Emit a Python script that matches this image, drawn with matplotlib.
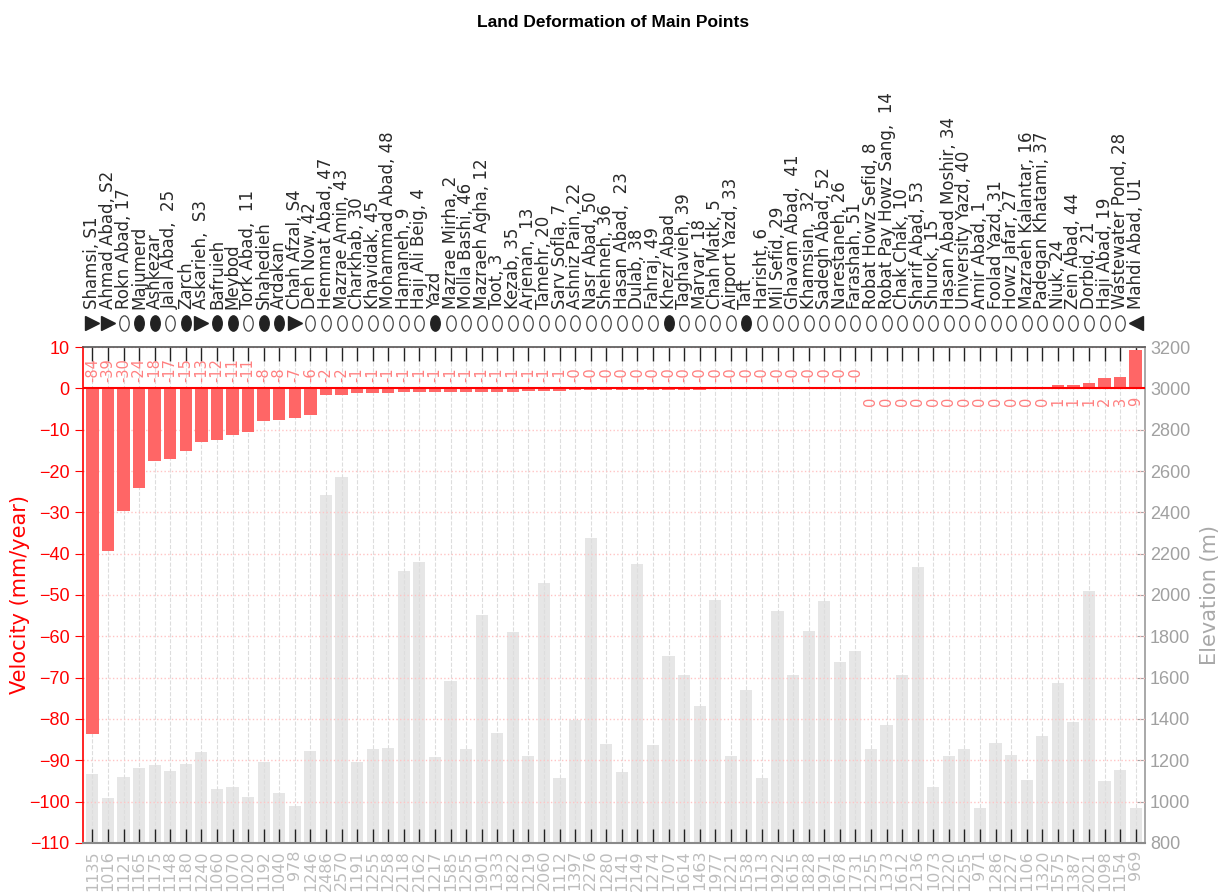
import matplotlib
matplotlib.use('Agg')
import matplotlib.pyplot as plt
from matplotlib.path import Path
from matplotlib.transforms import Affine2D
import numpy as np

plt.rcParams['font.family'] = ['Liberation Sans', 'DejaVu Sans']

# station names, in plotting order
names = ['Shamsi, S1', 'Ahmad Abad, S2', 'Rokn Abad, 17', 'Majumerd', 'Ashkezar',
         'Jalal Abad,  25', 'Zarch', 'Askarieh,  S3', 'Bafruieh', 'Meybod',
         'Tork Abad,  11', 'Shahedieh', 'Ardakan', 'Chah Afzal, S4', 'Deh Now, 42',
         'Hemmat Abad, 47', 'Mazrae Amin, 43', 'Charkhab, 30', 'Khavidak, 45',
         'Mohammad Abad, 48', 'Hamaneh, 9', 'Haji Ali Beig, 4', 'Yazd',
         'Mazrae Mirha, 2', 'Molla Bashi, 46', 'Mazraeh Agha, 12', 'Toot, 3',
         'Kezab, 35', 'Arjenan,  13', 'Tamehr, 20', 'Sarv Sofla, 7',
         'Ashniz Pain, 22', 'Nasr Abad, 50', 'Shehneh, 36', 'Hasan Abad,  23',
         'Dulab, 38', 'Fahraj, 49', 'Khezr Abad', 'Taghavieh, 39', 'Marvar, 18',
         'Chah Matk, 5', 'Airport Yazd, 33', 'Taft', 'Harisht, 6', 'Mil Sefid, 29',
         'Ghavam Abad,  41', 'Khamsian,  32', 'Sadegh Abad, 52', 'Narestaneh, 26',
         'Farashah, 51', 'Robat Howz Sefid, 8', 'Robat Pay Howz Sang,  14',
         'Chak Chak, 10', 'Sharif Abad, 53', 'Shurok, 15', 'Hasan Abad Moshir, 34',
         'University Yazd, 40', 'Amir Abad, 1', 'Foolad Yazd, 31', 'Howz Jafar, 27',
         'Mazraeh Kalantar, 16', 'Padegan Khatami, 37', 'Niuk, 24', 'Zein Abad, 44',
         'Dorbid, 21', 'Haji Abad, 19', 'Wastewater Pond, 28', 'Mahdi Abad, U1']

# S = station, C = city, P = point, U = U1
kinds = ['S', 'S', 'P', 'C', 'C', 'P', 'C', 'S', 'C', 'C', 'P', 'C', 'C', 'S',
         'P', 'P', 'P', 'P', 'P', 'P', 'P', 'P', 'C', 'P', 'P', 'P', 'P', 'P',
         'P', 'P', 'P', 'P', 'P', 'P', 'P', 'P', 'P', 'C', 'P', 'P', 'P', 'P',
         'C', 'P', 'P', 'P', 'P', 'P', 'P', 'P', 'P', 'P', 'P', 'P', 'P', 'P',
         'P', 'P', 'P', 'P', 'P', 'P', 'P', 'P', 'P', 'P', 'P', 'U']

# velocity (mm/year)
velocity = [-83.6, -39.4, -29.6, -24.1, -17.5, -17.2, -15.2, -12.9, -12.5, -11.3,
            -10.6, -7.9, -7.7, -7.1, -6.4, -1.7, -1.5,
            -1.2, -1.1, -1.1, -1.0, -1.0, -0.9, -0.9, -0.9, -0.8, -0.8, -0.8,
            -0.7, -0.7, -0.6,
            -0.48, -0.46, -0.44, -0.42, -0.40, -0.38, -0.35, -0.32, -0.30, -0.27,
            -0.24, -0.21, -0.18, -0.15, -0.12, -0.10, -0.08, -0.05, -0.03,
            0.02, 0.03, 0.05, 0.06, 0.08, 0.10, 0.15, 0.20, 0.25, 0.30, 0.35, 0.40,
            0.8, 0.9, 1.4, 2.4, 2.8, 9.2]

# elevation (m)
elevation = [1135, 1016, 1121, 1165, 1175, 1148, 1180, 1240, 1060, 1070,
             1020, 1192, 1040, 978, 1246, 2486, 2570, 1191, 1255, 1258,
             2118, 2162, 1217, 1585, 1255, 1901, 1333, 1822, 1219, 2060,
             1112, 1397, 2276, 1280, 1141, 2149, 1274, 1707, 1614, 1463,
             1977, 1221, 1538, 1113, 1922, 1615, 1828, 1971, 1678, 1731,
             1255, 1373, 1612, 2136, 1073, 1220, 1255, 971, 1286, 1227,
             1106, 1320, 1575, 1387, 2021, 1098, 1154, 969]

x = np.arange(len(names))

fig = plt.figure(figsize=(12.21, 8.96), dpi=100)
ax = fig.add_axes([0.068, 0.0592, 0.8698, 0.5535])
ax2 = ax.twinx()
ax2.set_zorder(0)
ax.set_zorder(1)
ax.patch.set_visible(False)

# elevation bars on the right axis
ax2.bar(x, elevation, width=0.78, color='#e6e6e6')
ax2.set_ylim(800, 3200)
ax2.set_yticks(np.arange(800, 3201, 200))
ax2.tick_params(axis='y', colors='#a0a0a0', direction='in', length=6, labelsize=13)
for s in ['left', 'top', 'bottom']:
    ax2.spines[s].set_visible(False)
ax2.spines['right'].set_color('#9a9a9a')
ax2.spines['right'].set_linewidth(1.2)

# velocity bars on the left axis
ax.bar(x, velocity, width=0.8, color='#ff6666', zorder=2)
ax.axhline(0, color='red', lw=1.5, zorder=3)
ax.set_xlim(-0.6, len(x) - 0.4)
ax.set_ylim(-110, 10)
ax.set_yticks(np.arange(-110, 11, 10))
ax.set_axisbelow(True)
ax.grid(axis='x', ls='--', color='#dddddd', lw=0.8)
ax.grid(axis='y', ls=':', color='#ffc4c4', lw=1.0)

ax.set_xticks(x)
ax.set_xticklabels([str(e) for e in elevation], rotation=90, color='#bdbdbd',
                   fontsize=11.5, fontfamily='DejaVu Sans')
ax.tick_params(axis='x', direction='in', length=10, width=1, color='#222222',
               top=True, pad=5)
ax.tick_params(axis='y', colors='red', direction='out', length=6, labelsize=13)
ax.spines['right'].set_visible(False)
ax.spines['left'].set_color('red')
ax.spines['left'].set_linewidth(1.2)
ax.spines['top'].set_color('#555555')
ax.spines['top'].set_linewidth(1.2)
ax.spines['bottom'].set_color('#8a8a8a')
ax.spines['bottom'].set_linewidth(1.5)

# value labels
for xi, v in zip(x, velocity):
    if v <= 0:
        ax.text(xi, 1.5, f'{v:.0f}', rotation=90, ha='center', va='bottom',
                color='#ff8080', fontsize=10.5, family='DejaVu Sans', zorder=4)
    else:
        ax.text(xi, -2, f'{v:.0f}', rotation=90, ha='center', va='top',
                color='#ff8080', fontsize=10.5, family='DejaVu Sans', zorder=4)

# markers and station names above the plot
trans = ax.get_xaxis_transform()
ellipse = Path.unit_circle().transformed(Affine2D().scale(0.62, 1.0))
styles = {'S': dict(marker='>', mfc='#222222', mec='#222222', ms=10),
          'U': dict(marker='<', mfc='#222222', mec='#222222', ms=10),
          'C': dict(marker=ellipse, mfc='#222222', mec='#222222', ms=11),
          'P': dict(marker=ellipse, mfc='white', mec='#444444', ms=11, mew=0.9)}
for k, st in styles.items():
    xs = [xi for xi, kk in zip(x, kinds) if kk == k]
    ax.plot(xs, [1.048] * len(xs), ls='none', transform=trans, clip_on=False, **st)

for xi, name in zip(x, names):
    ax.text(xi, 1.077, name, transform=trans, rotation=90, ha='center',
            va='bottom', fontsize=12, family='DejaVu Sans', color='#2a2a2a')

fig.text(0.502, 0.975, 'Land Deformation of Main Points', ha='center', va='center',
         fontsize=12.5, fontweight='bold')
fig.text(0.0164, 0.336, 'Velocity (mm/year)', rotation=90, ha='center', va='center',
         color='red', fontsize=15, family='DejaVu Sans')
fig.text(0.991, 0.336, 'Elevation (m)', rotation=90, ha='center', va='center',
         color='#a8a8a8', fontsize=15, family='DejaVu Sans')

fig.savefig('out.png', dpi=100)
